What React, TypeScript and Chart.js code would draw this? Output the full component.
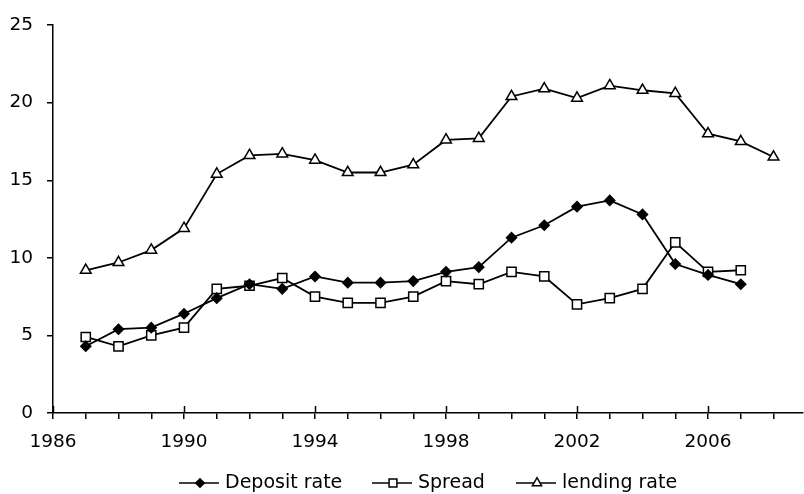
import React, { useEffect, useRef } from 'react';
import { Chart, registerables } from 'chart.js';

Chart.register(...registerables);

const years = [1987, 1988, 1989, 1990, 1991, 1992, 1993, 1994, 1995, 1996, 1997, 1998, 1999, 2000, 2001, 2002, 2003, 2004, 2005, 2006, 2007, 2008];
const depositRate = [4.3, 5.4, 5.5, 6.4, 7.4, 8.3, 8.0, 8.8, 8.4, 8.4, 8.5, 9.1, 9.4, 11.3, 12.1, 13.3, 13.7, 12.8, 9.6, 8.9, 8.3];
const spread = [4.9, 4.3, 5.0, 5.5, 8.0, 8.2, 8.7, 7.5, 7.1, 7.1, 7.5, 8.5, 8.3, 9.1, 8.8, 7.0, 7.4, 8.0, 11.0, 9.1, 9.2];
const lendingRate = [9.2, 9.7, 10.5, 11.9, 15.4, 16.6, 16.7, 16.3, 15.5, 15.5, 16.0, 17.6, 17.7, 20.4, 20.9, 20.3, 21.1, 20.8, 20.6, 18.0, 17.5, 16.5];
const seriesNames = ['Deposit rate', 'Spread', 'lending rate'];
const xLabelYears = [1986, 1990, 1994, 1998, 2002, 2006];
const xMin = 1986;
const xMax = 2008.9;
const yMin = 0;
const yMax = 25;
const yStep = 5;

const FONT = '"DejaVu Sans", sans-serif';
const TICK_FONT_SIZE = 18.5;
const LEGEND_FONT_SIZE = 19;
const LEGEND_STARTS = [179, 372, 516];

function toPoints(vals: number[]) {
  return vals.map((v, i) => ({ x: years[i], y: v }));
}

function drawMarker(ctx: CanvasRenderingContext2D, style: string, x: number, y: number, r: number, fill: string) {
  ctx.save();
  ctx.beginPath();
  if (style === 'rectRot') {
    ctx.moveTo(x - r, y);
    ctx.lineTo(x, y - r);
    ctx.lineTo(x + r, y);
    ctx.lineTo(x, y + r);
    ctx.closePath();
  } else if (style === 'rect') {
    const s = Math.SQRT1_2 * r;
    ctx.rect(x - s, y - s, 2 * s, 2 * s);
  } else {
    let rad = 0;
    ctx.moveTo(x + Math.sin(rad) * r, y - Math.cos(rad) * r);
    rad += (2 * Math.PI) / 3;
    ctx.lineTo(x + Math.sin(rad) * r, y - Math.cos(rad) * r);
    rad += (2 * Math.PI) / 3;
    ctx.lineTo(x + Math.sin(rad) * r, y - Math.cos(rad) * r);
    ctx.closePath();
  }
  ctx.fillStyle = fill;
  ctx.fill();
  ctx.lineWidth = 1.5;
  ctx.strokeStyle = '#000';
  ctx.stroke();
  ctx.restore();
}

const axisExtras = {
  id: 'axisExtras',
  afterDraw(chart: any) {
    const ctx = chart.ctx as CanvasRenderingContext2D;
    const xs = chart.scales.x;
    const bottom = chart.chartArea.bottom;
    ctx.save();
    ctx.strokeStyle = '#000';
    ctx.lineWidth = 1.5;
    xLabelYears.forEach((yr) => {
      const px = Math.round(xs.getPixelForValue(yr)) + 0.5;
      ctx.beginPath();
      ctx.moveTo(px, bottom - 7);
      ctx.lineTo(px, bottom);
      ctx.stroke();
    });
    // legend
    ctx.font = `${LEGEND_FONT_SIZE}px ${FONT}`;
    ctx.textBaseline = 'middle';
    ctx.fillStyle = '#000';
    const lineLen = 40;
    const gapText = 6;
    const y = 483;
    chart.data.datasets.forEach((d: any, i: number) => {
      const x = LEGEND_STARTS[i];
      ctx.beginPath();
      ctx.lineWidth = 1.7;
      ctx.moveTo(x, y);
      ctx.lineTo(x + lineLen, y);
      ctx.stroke();
      drawMarker(ctx, d.pointStyle, x + lineLen / 2 + 1, y, d.pointRadius * 0.85, d.pointBackgroundColor);
      ctx.fillText(d.label, x + lineLen + gapText, y);
    });
    ctx.restore();
  },
};

export default function App() {
  const ref = useRef<HTMLCanvasElement>(null);
  useEffect(() => {
    if (!ref.current) return;
    const common = {
      borderColor: '#000',
      borderWidth: 1.8,
      pointBorderColor: '#000',
      pointBorderWidth: 1.5,
      tension: 0,
      fill: false,
    };
    const chart = new Chart(ref.current, {
      type: 'line',
      data: {
        datasets: [
          { ...common, label: seriesNames[0], data: toPoints(depositRate), pointStyle: 'rectRot', pointRadius: 5, pointBackgroundColor: '#000' },
          { ...common, label: seriesNames[1], data: toPoints(spread), pointStyle: 'rect', pointRadius: 6.5, pointBackgroundColor: '#fff' },
          { ...common, label: seriesNames[2], data: toPoints(lendingRate), pointStyle: 'triangle', pointRadius: 6.2, pointBackgroundColor: '#fff' },
        ] as any,
      },
      options: {
        responsive: false,
        animation: false,
        layout: { autoPadding: false, padding: { top: 23, right: 1, left: 0, bottom: 0 } },
        plugins: { legend: { display: false }, tooltip: { enabled: false } },
        scales: {
          x: {
            type: 'linear',
            min: xMin,
            max: xMax,
            afterBuildTicks: (scale: any) => {
              const t = [];
              for (let v = xMin; v <= Math.floor(xMax); v++) t.push({ value: v });
              scale.ticks = t;
            },
            afterFit: (scale: any) => {
              scale.height = 81;
              scale.paddingLeft = 0;
              scale.paddingRight = 0;
            },
            ticks: {
              autoSkip: false,
              maxRotation: 0,
              padding: 12,
              color: '#000',
              font: { family: FONT, size: TICK_FONT_SIZE },
              callback: (v: any) => (xLabelYears.includes(Number(v)) ? String(v) : ''),
            },
            grid: { drawOnChartArea: false, tickLength: 6, color: '#000', lineWidth: 1.5 },
            border: { color: '#000', width: 1.5 },
          },
          y: {
            min: yMin,
            max: yMax,
            afterFit: (scale: any) => { scale.width = 53; },
            ticks: {
              stepSize: yStep,
              padding: 14,
              color: '#000',
              font: { family: FONT, size: TICK_FONT_SIZE },
            },
            grid: { drawOnChartArea: false, tickLength: 6, color: '#000', lineWidth: 1.5 },
            border: { color: '#000', width: 1.5 },
          },
        },
      } as any,
      plugins: [axisExtras],
    });
    return () => chart.destroy();
  }, []);
  return (
    <div style={{ position: 'absolute', left: 0, top: 0, width: 804, height: 494, background: '#fff' }}>
      <canvas ref={ref} width={804} height={494} />
    </div>
  );
}
